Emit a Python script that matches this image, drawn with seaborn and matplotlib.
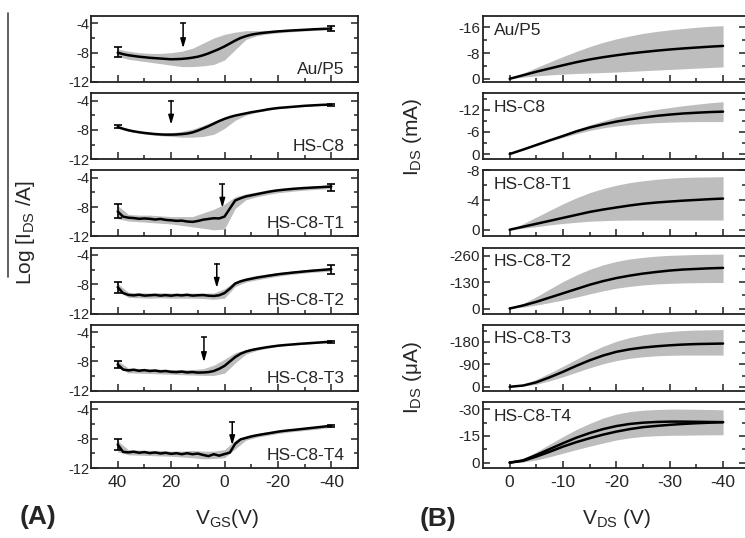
import numpy as np
import matplotlib
matplotlib.use("Agg")
import matplotlib.pyplot as plt
from matplotlib.ticker import MultipleLocator, FixedLocator
from matplotlib.lines import Line2D
import seaborn as sns

sns.set_style("ticks")
plt.rcParams['font.family'] = ['Liberation Sans', 'DejaVu Sans']
plt.rcParams['mathtext.fontset'] = 'custom'
plt.rcParams['mathtext.rm'] = 'Liberation Sans'
plt.rcParams['mathtext.it'] = 'Liberation Sans:italic'

# ---------------- data: transfer curves (A) ----------------
vgs = list(range(40, -41, -2))          # 41 points
vgs_band = list(range(40, -41, -4))     # 21 points
labels = ["Au/P5", "HS-C8", "HS-C8-T1", "HS-C8-T2", "HS-C8-T3", "HS-C8-T4"]

logI_au = [-8.0, -8.2, -8.35, -8.45, -8.55, -8.62, -8.7, -8.75, -8.8, -8.85, -8.9, -8.88, -8.85, -8.78, -8.68,
           -8.55, -8.35, -8.1, -7.8, -7.5, -7.15, -6.75, -6.35, -6.0, -5.75, -5.55, -5.42, -5.32, -5.24, -5.17,
           -5.1, -5.05, -5.0, -4.96, -4.92, -4.88, -4.84, -4.8, -4.77, -4.74, -4.7]
logI_c8 = [-7.6, -7.85, -8.05, -8.2, -8.32, -8.42, -8.5, -8.57, -8.62, -8.65, -8.65, -8.63, -8.58, -8.5, -8.35,
           -8.1, -7.8, -7.5, -7.15, -6.8, -6.5, -6.25, -6.05, -5.9, -5.75, -5.6, -5.48, -5.36, -5.22, -5.11,
           -5.02, -4.96, -4.9, -4.84, -4.78, -4.72, -4.68, -4.64, -4.6, -4.57, -4.55]
logI_t1 = [-8.6, -9.3, -9.45, -9.5, -9.6, -9.55, -9.6, -9.7, -9.62, -9.75, -9.8, -9.88, -9.85, -9.97, -10.02,
           -9.9, -9.72, -9.62, -9.52, -9.55, -9.3, -8.2, -7.1, -6.8, -6.55, -6.4, -6.25, -6.1, -5.95, -5.82,
           -5.72, -5.64, -5.57, -5.5, -5.45, -5.4, -5.36, -5.32, -5.28, -5.24, -5.2]
logI_t2 = [-8.4, -9.2, -9.45, -9.52, -9.42, -9.55, -9.5, -9.45, -9.55, -9.48, -9.56, -9.46, -9.52, -9.44, -9.55,
           -9.5, -9.47, -9.56, -9.6, -9.5, -9.2, -8.6, -7.9, -7.6, -7.4, -7.25, -7.1, -6.98, -6.86, -6.75,
           -6.64, -6.55, -6.47, -6.39, -6.32, -6.25, -6.18, -6.12, -6.06, -6.0, -5.95]
logI_t3 = [-8.4, -9.1, -9.22, -9.13, -9.27, -9.18, -9.3, -9.24, -9.36, -9.3, -9.42, -9.45, -9.38, -9.5, -9.44,
           -9.52, -9.5, -9.45, -9.3, -9.0, -8.6, -8.0, -7.4, -6.95, -6.65, -6.45, -6.3, -6.17, -6.05, -5.95,
           -5.85, -5.78, -5.72, -5.66, -5.6, -5.55, -5.5, -5.45, -5.4, -5.35, -5.3]
logI_t4 = [-8.8, -9.8, -9.87, -9.78, -9.92, -9.83, -9.97, -9.88, -10.02, -9.93, -10.07, -9.98, -10.12, -9.98,
           -10.12, -10.03, -10.22, -10.38, -10.12, -10.32, -10.1, -9.9, -8.7, -8.1, -7.9, -7.7, -7.55, -7.42,
           -7.3, -7.18, -7.05, -6.95, -6.87, -6.8, -6.72, -6.64, -6.56, -6.48, -6.4, -6.32, -6.25]

band_hi_au = [-7.5, -7.8, -8.0, -8.1, -8.1, -8.0, -7.8, -7.4, -6.7, -6.0, -5.5, -5.2, -5.0, -5.0, -4.95, -4.9,
              -4.85, -4.8, -4.75, -4.7, -4.6]
band_lo_au = [-8.5, -8.9, -9.1, -9.3, -9.5, -9.7, -9.9, -9.9, -9.8, -9.6, -9.0, -7.6, -6.2, -5.7, -5.45, -5.3,
              -5.18, -5.08, -5.0, -4.93, -4.85]
band_hi_c8 = [-7.4, -7.9, -8.2, -8.35, -8.45, -8.4, -8.2, -7.9, -7.4, -6.8, -6.3, -5.9, -5.65, -5.4, -5.15,
              -4.95, -4.85, -4.72, -4.62, -4.55, -4.5]
band_lo_c8 = [-7.8, -8.2, -8.45, -8.65, -8.8, -8.9, -9.0, -9.0, -8.9, -8.6, -7.8, -6.7, -6.0, -5.6, -5.35, -5.1,
              -4.95, -4.85, -4.75, -4.68, -4.62]
band_hi_t1 = [-7.8, -9.0, -9.1, -9.1, -9.2, -9.3, -9.3, -9.3, -8.8, -8.3, -7.6, -6.6, -6.2, -5.95, -5.7, -5.5,
              -5.4, -5.3, -5.2, -5.1, -4.9]
band_lo_t1 = [-9.6, -9.9, -10.0, -10.1, -10.2, -10.3, -10.5, -10.7, -10.9, -11.1, -11.0, -8.2, -7.0, -6.6,
              -6.3, -6.05, -5.9, -5.75, -5.65, -5.55, -5.5]
band_hi_t2 = [-7.9, -9.1, -9.15, -9.2, -9.15, -9.2, -9.2, -9.2, -9.2, -9.2, -8.6, -7.6, -7.1, -6.8, -6.6, -6.4,
              -6.25, -6.1, -5.95, -5.85, -5.75]
band_lo_t2 = [-8.9, -9.8, -9.85, -9.9, -9.85, -9.9, -9.9, -9.9, -9.95, -10.05, -9.9, -8.3, -7.7, -7.4, -7.15,
              -6.9, -6.7, -6.55, -6.4, -6.3, -6.2]
band_hi_t3 = [-7.9, -8.9, -8.95, -9.0, -9.05, -9.1, -9.1, -9.1, -9.0, -8.5, -7.7, -6.8, -6.4, -6.1, -5.9, -5.75,
              -5.62, -5.5, -5.42, -5.33, -5.25]
band_lo_t3 = [-8.8, -9.55, -9.6, -9.65, -9.7, -9.75, -9.8, -9.85, -9.9, -9.9, -9.6, -8.2, -7.0, -6.5, -6.2,
              -5.95, -5.8, -5.7, -5.6, -5.5, -5.4]
band_hi_t4 = [-8.3, -9.5, -9.55, -9.6, -9.6, -9.7, -9.7, -9.6, -9.7, -9.7, -9.5, -8.2, -7.6, -7.3, -7.05, -6.85,
              -6.7, -6.55, -6.4, -6.25, -6.1]
band_lo_t4 = [-9.8, -10.2, -10.25, -10.3, -10.35, -10.4, -10.5, -10.6, -10.75, -10.7, -10.6, -9.4, -8.2, -7.8,
              -7.55, -7.3, -7.1, -6.95, -6.8, -6.65, -6.45]

err_v = [40, -40]
err_top = [[-7.2, -4.35], [-7.3, -4.45], [-7.6, -4.8], [-7.7, -5.4], [-8.0, -5.15], [-8.0, -6.1]]
err_bot = [[-8.6, -5.0], [-7.8, -4.7], [-9.5, -5.8], [-9.2, -6.6], [-8.9, -5.45], [-9.6, -6.4]]

arrow_v = [15.5, 20, 0.8, 2.9, 7.7, -2.9]
arrow_top = [-4.0, -4.0, -4.9, -5.2, -4.7, -5.7]
arrow_tip = [-7.4, -7.3, -8.1, -8.5, -8.1, -8.9]

# ---------------- data: output curves (B) ----------------
vds = [0, -2.5, -5, -7.5, -10, -12.5, -15, -17.5, -20, -22.5, -25, -27.5, -30, -32.5, -35, -37.5, -40]

ids_au = [0, -1.1, -2.2, -3.2, -4.2, -5.15, -6.0, -6.7, -7.3, -7.85, -8.3, -8.72, -9.1, -9.42, -9.7, -9.97, -10.2]
ids_au_hi = [0, -1.7, -3.5, -5.2, -6.9, -8.5, -10.0, -11.3, -12.4, -13.3, -14.1, -14.7, -15.2, -15.6, -16.0,
             -16.3, -16.5]
ids_au_lo = [0, -0.5, -0.9, -1.2, -1.45, -1.65, -1.8, -1.95, -2.1, -2.3, -2.5, -2.7, -2.9, -3.1, -3.3, -3.5, -3.7]

ids_c8 = [0, -1.2, -2.45, -3.7, -4.9, -6.15, -7.2, -8.05, -8.8, -9.4, -9.9, -10.35, -10.7, -11.0, -11.2, -11.38,
          -11.5]
ids_c8_hi = [0, -1.25, -2.6, -3.95, -5.3, -6.7, -7.9, -9.0, -10.0, -10.8, -11.5, -12.1, -12.6, -13.1, -13.5,
             -13.9, -14.2]
ids_c8_lo = [0, -1.15, -2.3, -3.45, -4.5, -5.5, -6.4, -7.1, -7.6, -8.0, -8.3, -8.5, -8.65, -8.75, -8.8, -8.8, -8.8]

ids_t1 = [0, -0.4, -0.8, -1.2, -1.6, -2.0, -2.4, -2.72, -3.0, -3.27, -3.5, -3.67, -3.8, -3.92, -4.02, -4.12, -4.2]
ids_t1_hi = [0, -0.8, -1.7, -2.6, -3.5, -4.3, -5.0, -5.55, -6.0, -6.35, -6.6, -6.8, -6.95, -7.05, -7.1, -7.12,
             -7.15]
ids_t1_lo = [0, -0.2, -0.4, -0.65, -0.85, -1.0, -1.15, -1.22, -1.28, -1.3, -1.3, -1.3, -1.3, -1.3, -1.3, -1.3, -1.3]

ids_t2 = [0, -15, -33, -54, -75, -96, -117, -135, -150, -162, -172, -180, -187, -192, -195, -198, -200]
ids_t2_hi = [0, -25, -58, -96, -133, -165, -193, -215, -232, -244, -252, -258, -262, -264, -266, -267, -268]
ids_t2_lo = [0, -7, -17, -29, -42, -56, -72, -87, -100, -109, -116, -121, -124, -126, -127, -128, -128]

ids_t3 = [0, -5, -18, -38, -60, -84, -106, -125, -140, -150, -157, -162, -166, -169, -171, -172, -173]
ids_t3_hi = [0, -8, -30, -55, -82, -110, -138, -162, -182, -197, -208, -216, -221, -225, -227, -228, -229]
ids_t3_lo = [0, -3, -10, -24, -40, -58, -76, -92, -105, -114, -120, -124, -126, -127, -127, -127, -127]

ids_t4_a = [0, -1.3, -4.3, -7.6, -10.9, -14.0, -16.6, -18.8, -20.5, -21.7, -22.4, -22.8, -23.0, -23.0, -22.9,
            -22.8, -22.7]
ids_t4_b = [0, -1.0, -3.4, -6.1, -9.0, -11.5, -13.7, -15.7, -17.4, -18.8, -19.9, -20.6, -21.2, -21.7, -22.1,
            -22.4, -22.7]
ids_t4_hi = [0, -2.0, -6.0, -10.4, -14.6, -18.6, -22.0, -25.0, -27.2, -28.6, -29.4, -29.8, -30.0, -30.0, -29.9,
             -29.8, -29.6]
ids_t4_lo = [0, -0.4, -1.5, -3.3, -5.3, -7.3, -9.2, -11.0, -12.7, -13.9, -14.7, -15.1, -15.3, -15.4, -15.5,
             -15.6, -15.6]

yticks_B = [[-16, -8, 0], [-12, -6, 0], [-8, -4, 0], [-260, -130, 0], [-180, -90, 0], [-30, -15, 0]]
yminor_B = [4, 3, 2, 65, 45, 7.5]
ylim_B = [(1.0, -19.5), (1.4, -16.5), (0.9, -8.0), (25, -300), (16, -248), (3, -34)]

transfer = [logI_au, logI_c8, logI_t1, logI_t2, logI_t3, logI_t4]
band_hi_A = [band_hi_au, band_hi_c8, band_hi_t1, band_hi_t2, band_hi_t3, band_hi_t4]
band_lo_A = [band_lo_au, band_lo_c8, band_lo_t1, band_lo_t2, band_lo_t3, band_lo_t4]
output = [[ids_au], [ids_c8], [ids_t1], [ids_t2], [ids_t3], [ids_t4_a, ids_t4_b]]
band_hi_B = [ids_au_hi, ids_c8_hi, ids_t1_hi, ids_t2_hi, ids_t3_hi, ids_t4_hi]
band_lo_B = [ids_au_lo, ids_c8_lo, ids_t1_lo, ids_t2_lo, ids_t3_lo, ids_t4_lo]

# ---------------- figure ----------------
W, H = 745, 538
fig = plt.figure(figsize=(W / 100, H / 100), dpi=100)
gray = "#bdbdbd"
spine_c = "#222222"

def px_axes(x0, x1, top, bottom):
    return fig.add_axes([x0 / W, 1 - bottom / H, (x1 - x0) / W, (bottom - top) / H])

def style(ax):
    for s in ax.spines.values():
        s.set_color(spine_c)
        s.set_linewidth(1.3)
    ax.tick_params(which="both", direction="in", color=spine_c, width=1.1,
                   top=False, right=True, labelright=False)
    ax.tick_params(which="major", length=5)
    ax.tick_params(which="minor", length=3)

tops = [16 + i * 77.2 for i in range(6)]
for i in range(6):
    top = tops[i]
    bot = top + 66
    # ---- panel A ----
    ax = px_axes(91, 358, top, bot)
    ax.fill_between(vgs_band, band_lo_A[i], band_hi_A[i], color=gray, lw=0)
    sns.lineplot(x=vgs, y=transfer[i], ax=ax, color="k", lw=1.8, sort=False, estimator=None)
    for j in range(2):
        ax.errorbar([err_v[j]], [(err_top[i][j] + err_bot[i][j]) / 2],
                    yerr=[[(err_top[i][j] - err_bot[i][j]) / 2], [(err_top[i][j] - err_bot[i][j]) / 2]],
                    fmt="none", ecolor="k", elinewidth=1.2, capsize=3, capthick=1.2)
    ax.annotate("", xy=(arrow_v[i], arrow_tip[i]), xytext=(arrow_v[i], arrow_top[i]),
                arrowprops=dict(arrowstyle="-|>,head_length=0.55,head_width=0.16", color="k", lw=1.1,
                                shrinkA=0, shrinkB=0))
    ax.plot([arrow_v[i]], [arrow_top[i]], marker="_", color="k", ms=5, mew=1.1)
    ax.set_xlim(50, -50)
    ax.set_ylim(-12, -3)
    ax.xaxis.set_major_locator(FixedLocator([40, 20, 0, -20, -40]))
    ax.xaxis.set_minor_locator(FixedLocator([30, 10, -10, -30]))
    ax.yaxis.set_major_locator(FixedLocator([-12, -8, -4]))
    ax.yaxis.set_minor_locator(FixedLocator([-10, -6]))
    style(ax)
    ax.tick_params(axis="y", labelsize=10.5, pad=1)
    ax.tick_params(axis="x", labelsize=12.5, pad=5)
    ax.set_yticklabels(["-12", "-8", "-4"])
    if i < 5:
        ax.set_xticklabels([])
    else:
        ax.set_xticklabels(["40", "20", "0", "-20", "-40"])
    ax.set_xlabel("")
    ax.set_ylabel("")
    ax.text(0.95, 0.08, labels[i], transform=ax.transAxes, ha="right", va="bottom", fontsize=12.5)

    # ---- panel B ----
    bx = px_axes(483, 746, top, bot)
    bx.fill_between(vds, band_lo_B[i], band_hi_B[i], color=gray, lw=0)
    for curve in output[i]:
        sns.lineplot(x=vds, y=curve, ax=bx, color="k", lw=1.8, sort=False, estimator=None)
    bx.set_xlim(5, -44.3)
    bx.set_ylim(*ylim_B[i])
    bx.xaxis.set_major_locator(FixedLocator([0, -10, -20, -30, -40]))
    bx.xaxis.set_minor_locator(FixedLocator([-5, -15, -25, -35]))
    bx.yaxis.set_major_locator(FixedLocator(yticks_B[i]))
    bx.yaxis.set_minor_locator(MultipleLocator(yminor_B[i]))
    style(bx)
    bx.tick_params(axis="y", labelsize=11, pad=2)
    bx.tick_params(axis="x", labelsize=12.5, pad=5)
    bx.set_yticklabels([str(v) for v in yticks_B[i]])
    if i < 5:
        bx.set_xticklabels([])
    else:
        bx.set_xticklabels(["0", "-10", "-20", "-30", "-40"])
    bx.set_xlabel("")
    bx.set_ylabel("")
    bx.text(0.04, 0.9, labels[i], transform=bx.transAxes, ha="left", va="top", fontsize=12.5)

# ---------------- figure-level labels ----------------
fig.text(26 / W, 1 - 232 / H, r"Log [I$_{\rm DS}$ /A]", rotation=90, ha="center", va="center", fontsize=15)
fig.text(413 / W, 1 - 137 / H, r"I$_{\rm DS}$ (mA)", rotation=90, ha="center", va="center", fontsize=15)
fig.text(413 / W, 1 - 377 / H, r"I$_{\rm DS}$ (μA)", rotation=90, ha="center", va="center", fontsize=15)
fig.text(227 / W, 1 - 518 / H, r"V$_{\rm GS}$(V)", ha="center", va="center", fontsize=15)
fig.text(617 / W, 1 - 518 / H, r"V$_{\rm DS}$ (V)", ha="center", va="center", fontsize=15)
fig.text(38 / W, 1 - 517 / H, "(A)", ha="center", va="center", fontsize=19, fontweight="bold")
fig.text(438 / W, 1 - 519 / H, "(B)", ha="center", va="center", fontsize=19, fontweight="bold")
fig.add_artist(Line2D([8 / W, 8 / W], [1 - 13 / H, 1 - 277 / H], color="#444444", lw=1.2))

fig.savefig("out.png", dpi=100)
